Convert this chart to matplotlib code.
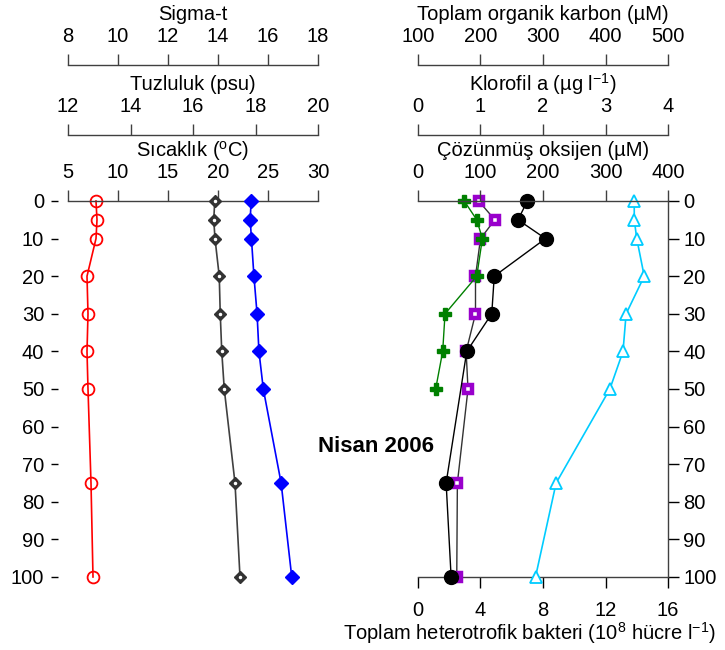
" depth profiles, Nisan 2006 "
import matplotlib
matplotlib.use("Agg")
import matplotlib.pyplot as plt

plt.rcParams.update({'font.size': 14.5,
                     'font.family': ['Liberation Sans', 'DejaVu Sans'],
                     'mathtext.fontset': 'custom',
                     'mathtext.rm': 'Liberation Sans',
                     'mathtext.it': 'Liberation Sans:italic',
                     'axes.edgecolor': '#404040',
                     'axes.linewidth': 1.0})

# left panel (CTD)
depth_ctd = [0, 5, 10, 20, 30, 40, 50, 75, 100]
temperature = [7.8, 7.9, 7.8, 6.9, 7.0, 6.9, 7.0, 7.3, 7.5]
salinity = [17.86, 17.83, 17.87, 17.95, 18.05, 18.11, 18.25, 18.82, 19.16]
sigma_t = [13.87, 13.83, 13.88, 14.05, 14.09, 14.15, 14.25, 14.68, 14.88]

# right panel
depth_o2 = [0, 5, 10, 20, 30, 40, 50, 75, 100]
oxygen = [346, 346, 350, 362, 333, 328, 307, 221, 188]
depth_toc = [0, 5, 10, 20, 30, 40, 50, 75, 100]
toc = [197, 223, 200, 192, 192, 177, 180, 163, 162]
depth_chl = [0, 5, 10, 20, 30, 40, 75, 100]
chl = [1.75, 1.60, 2.04, 1.22, 1.18, 0.78, 0.45, 0.53]
depth_bac = [0, 5, 10, 20, 30, 40, 50]
bacteria = [2.96, 3.76, 4.12, 3.76, 1.73, 1.58, 1.13]

depth_ticks = list(range(0, 101, 10))

W, H = 725, 650
fig = plt.figure(figsize=(W/100, H/100), dpi=100)


def box(x0, x1, y0, y1):
    return [x0/W, 1 - y1/H, (x1 - x0)/W, (y1 - y0)/H]


def top_axis(ax, pos, lim, ticks, label):
    " extra x axis stacked above the panel "
    for s in ['left', 'right', 'bottom']:
        ax.spines[s].set_visible(False)
    ax.spines['top'].set_position(('axes', pos))
    ax.set_xlim(lim)
    ax.set_xticks(ticks)
    ax.xaxis.set_ticks_position('top')
    ax.xaxis.set_label_position('top')
    ax.tick_params(axis='x', direction='out', length=8, width=1.0,
                   pad=6, color='#404040')
    ax.set_xlabel(label, labelpad=4.5)
    ax.tick_params(axis='y', left=False, right=False,
                   labelleft=False, labelright=False)


# ---------------- left panel ----------------
axL = fig.add_axes(box(68, 318, 201, 577))
axL.set_ylim(100, 0)
axL.set_yticks(depth_ticks)
axL.spines['left'].set_position(('axes', -0.04))
axL.spines['right'].set_visible(False)
axL.spines['bottom'].set_visible(False)

axS = axL.twiny()
axG = axL.twiny()

top_axis(axL, 1.0, (5, 30), [5, 10, 15, 20, 25, 30],
         "Sıcaklık ($^{\\mathrm{o}}$C)")
axL.tick_params(axis='y', left=True, labelleft=True, direction='out',
                length=5, width=1.0, pad=5)
axL.plot(temperature, depth_ctd, color='#ff0000', lw=1.2, marker='o', ms=8.5,
         mfc='none', mec='#ff0000', mew=1.3, clip_on=False)

top_axis(axS, 1.1755, (12, 20), [12, 14, 16, 18, 20], "Tuzluluk (psu)")
axS.plot(salinity, depth_ctd, color='#0000ff', lw=1.2, marker='D', ms=7,
         mec='#0000ff', clip_on=False)

top_axis(axG, 1.3617, (8, 18), [8, 10, 12, 14, 16, 18], "Sigma-t")
axG.plot(sigma_t, depth_ctd, color='#404040', lw=1.2, marker='D', ms=6,
         mfc='#333333', mec='#333333', clip_on=False)
axG.plot(sigma_t, depth_ctd, ls='none', marker='o', ms=1.5, mfc='white',
         mec='white', clip_on=False)

# ---------------- right panel ----------------
axR = fig.add_axes(box(418, 668, 201, 577))
axR.set_ylim(100, 0)
axR.set_xlim(0, 16)
axR.set_xticks([0, 4, 8, 12, 16])
axR.set_yticks(depth_ticks)
axR.spines['left'].set_visible(False)
axR.spines['top'].set_visible(False)

axT = axR.twiny()
axB = axR.twiny()
axC = axR.twiny()
axO = axR.twiny()

axR.xaxis.set_ticks_position('bottom')
axR.yaxis.set_ticks_position('right')
axR.tick_params(axis='y', direction='out', length=8, width=1.0, pad=3)
axR.tick_params(axis='x', direction='out', length=8, width=1.0, pad=9)
axR.set_xlabel("Toplam heterotrofik bakteri (10$^{8}$ hücre l$^{-1}$)")
axR.xaxis.set_label_coords(0.444, -0.114)

top_axis(axT, 1.3617, (100, 500), [100, 200, 300, 400, 500],
         "Toplam organik karbon (µM)")
axT.plot(toc, depth_toc, color='#333333', lw=1.0, marker='s', ms=6.2,
         mfc='white', mec='#9900cc', mew=3.2, clip_on=False)

axB.set_axis_off()
axB.set_xlim(0, 16)
axB.plot(bacteria, depth_bac, color='#008000', lw=1.0, marker='P', ms=9,
         mfc='#008000', mec='#008000', clip_on=False)

top_axis(axC, 1.1755, (0, 4), [0, 1, 2, 3, 4], "Klorofil a (µg l$^{-1}$)")
axC.plot(chl, depth_chl, color='black', lw=1.0, marker='o', ms=10,
         mfc='black', mec='black', clip_on=False)

top_axis(axO, 1.0, (0, 400), [0, 100, 200, 300, 400],
         "Çözünmüş oksijen (µM)")
axO.plot(oxygen, depth_o2, color='#00ccff', lw=1.2, marker='^', ms=8,
         mfc='white', mec='#00ccff', mew=1.3, clip_on=False)

fig.text(318/W, 1 - 447/H, "Nisan 2006", fontsize=16, fontweight='bold',
         ha='left', va='center')

fig.savefig("out.png", dpi=100)
